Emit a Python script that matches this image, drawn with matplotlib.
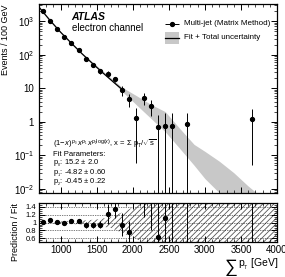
import numpy as np
import matplotlib
matplotlib.use("Agg")
import matplotlib.pyplot as plt
from matplotlib.ticker import MultipleLocator, FixedLocator, FixedFormatter, LogLocator, NullFormatter

plt.rcParams["font.family"] = ["Liberation Sans", "DejaVu Sans"]
plt.rcParams["mathtext.fontset"] = "custom"
plt.rcParams["mathtext.rm"] = "Liberation Sans"
plt.rcParams["mathtext.it"] = "Liberation Sans:italic"
plt.rcParams["mathtext.bf"] = "Liberation Sans:bold"
plt.rcParams["hatch.linewidth"] = 0.6

# multi-jet data (matrix method), 100 GeV bins
sumpt = [750, 850, 950, 1050, 1150, 1250, 1350, 1450, 1550, 1650, 1750,
         1850, 1950, 2050, 2150, 2250, 2350, 2450, 2550, 2750, 3650]
events = [2050, 1050, 600, 350, 225, 135, 75, 50, 32, 27, 18.6,
          8.6, 4.7, 1.3, 5.2, 3.0, 0.71, 0.76, 0.76, 0.84, 1.2]
events_err = [60, 40, 30, 20, 15, 12, 8, 7, 5, 6, 3.5,
              2.7, 2.0, 1.24, 2.0, 1.5, 0.9, 1.0, 1.0, 1.0, 1.15]

# fit curve and its total uncertainty band
fit_x = [700, 850, 1000, 1150, 1300, 1450, 1600, 1750, 1880]
fit_y = [2630, 1070, 468, 219, 105, 52.5, 26.9, 14.1, 8.2]
band_x = [700, 1000, 1300, 1700, 1850, 2050, 2250, 2450, 2650, 2850,
          3000, 3200, 3400, 3600, 3750, 3900]
band_hi = [2750, 490, 110, 20, 10.7, 6.0, 3.3, 2.0, 0.63, 0.21,
           0.13, 0.066, 0.030, 0.012, 0.0065, 0.0035]
band_lo = [2520, 447, 100, 17.4, 8.1, 3.2, 1.26, 0.5, 0.16, 0.05,
           0.02, 0.0075, 0.0025, 0.001, 0.0005, 0.00025]

# prediction / fit
ratio = [1.005, 1.06, 1.005, 0.98, 1.03, 1.03, 0.93, 0.93, 0.95, 1.22, 1.34,
         0.95, 0.77, 0.31, 1.8, 1.6, 0.63, 1.11, 2.1, 14, 200]
ratio_err = [0.04, 0.04, 0.04, 0.04, 0.05, 0.05, 0.08, 0.08, 0.1, 0.25, 0.22,
             0.3, 0.27, 0.1, 0.65, 0.8, 0.9, 1.0, 2.8, 17, 250]
rband_x = [700, 1000, 1300, 1500, 1700, 1900, 2100, 2300, 4000]
rband_hi = [1.04, 1.03, 1.05, 1.08, 1.14, 1.3, 1.47, 1.6, 5]
rband_lo = [0.96, 0.97, 0.95, 0.92, 0.86, 0.7, 0.53, 0.4, 0]

fig = plt.figure(figsize=(2.85, 2.77), dpi=100)
ax = fig.add_axes([0.137, 0.303, 0.835, 0.683])
rax = fig.add_axes([0.137, 0.126, 0.835, 0.141], sharex=ax)

ax.fill_between(band_x, band_lo, band_hi, color="#c8c8c8", lw=0, zorder=1)
ax.plot(fit_x, fit_y, color="black", lw=0.9, zorder=2)
ax.errorbar(sumpt, events, yerr=events_err, fmt="o", color="black",
            ms=2.8, lw=0.7, capsize=0, zorder=3)
ax.set_yscale("log")
ax.set_xlim(700, 4000)
ax.set_ylim(0.0074, 3300)

ax.yaxis.set_major_locator(FixedLocator([1e-2, 1e-1, 1, 10, 1e2, 1e3]))
ax.yaxis.set_major_formatter(FixedFormatter(
    [r"$10^{-2}$", r"$10^{-1}$", "1", "10", r"$10^{2}$", r"$10^{3}$"]))
ax.yaxis.set_minor_locator(LogLocator(base=10, subs=np.arange(2, 10), numticks=20))
ax.yaxis.set_minor_formatter(NullFormatter())
ax.xaxis.set_major_locator(MultipleLocator(500))
ax.xaxis.set_minor_locator(MultipleLocator(100))
for a in (ax, rax):
    a.tick_params(which="both", direction="in", top=True, right=True, labelsize=7)
    a.tick_params(which="major", length=4, width=0.7)
    a.tick_params(which="minor", length=2, width=0.5)
    for s in a.spines.values():
        s.set_linewidth(0.9)
ax.tick_params(labelbottom=False)
rax.tick_params(axis="y", labelsize=5.5, pad=2)

# legend drawn by hand like the ATLAS style
ax.text(0.137, 0.93, "ATLAS", transform=ax.transAxes, fontsize=7.5,
        fontweight="bold", style="italic", va="center")
ax.text(0.137, 0.87, "electron channel", transform=ax.transAxes, fontsize=7, va="center")
ax.errorbar([0.56], [0.895], xerr=[0.03], fmt="o", color="black", ms=2.8, lw=0.7,
            transform=ax.transAxes)
ax.text(0.61, 0.895, "Multi-jet (Matrix Method)", transform=ax.transAxes,
        fontsize=5.8, va="center")
ax.add_patch(plt.Rectangle((0.53, 0.79), 0.06, 0.06, transform=ax.transAxes,
                           color="#c8c8c8", lw=0))
ax.plot([0.53, 0.59], [0.82, 0.82], color="black", lw=0.9, transform=ax.transAxes)
ax.text(0.61, 0.82, "Fit + Total uncertainty", transform=ax.transAxes,
        fontsize=5.8, va="center")

lines = [r"$(1\!-\!x)^{p_{_0}}\, x^{p_{_1}}\, x^{p_{_2}\log(x)}$, x = $\Sigma$ p$_{\rm T}$/$\sqrt{\rm s}$",
         "Fit Parameters:",
         r"p$_{_0}$: 15.2 $\pm$ 2.0",
         r"p$_{_1}$: -4.82 $\pm$ 0.60",
         r"p$_{_2}$: -0.45 $\pm$ 0.22"]
for i, t in enumerate(lines):
    ax.text(0.06, 0.255 - i * 0.05, t, transform=ax.transAxes, fontsize=5.5, va="center")

rax.fill_between(rband_x, rband_lo, rband_hi, facecolor="none", edgecolor="#555555",
                 hatch="//////", lw=0, zorder=1)
rax.errorbar(sumpt, ratio, yerr=ratio_err, fmt="o", color="black",
             ms=2.8, lw=0.7, capsize=0, zorder=3)
rax.set_ylim(0.5, 1.5)
rax.set_yticks([0.6, 0.8, 1.0, 1.2, 1.4])
rax.set_yticklabels(["0.6", "0.8", "1", "1.2", "1.4"])
rax.yaxis.set_minor_locator(MultipleLocator(0.05))
for yv in [0.6, 0.8, 1.0, 1.2, 1.4]:
    rax.axhline(yv, color="black", lw=0.5, ls=(0, (1, 1.5)), zorder=2)
rax.tick_params(axis="x", pad=2)

fig.text(0.018, 0.985, "Events / 100 GeV", rotation=90, ha="center", va="top", fontsize=6.5)
fig.text(0.053, 0.267, "Prediction / Fit", rotation=90, ha="center", va="top", fontsize=6.5)
fig.text(0.785, 0.035, r"$\sum$", ha="left", va="center", fontsize=13)
fig.text(0.975, 0.045, r"p$_{_{\rm T}}$ [GeV]", ha="right", va="center", fontsize=7.5)

fig.savefig("out.png", dpi=100)
